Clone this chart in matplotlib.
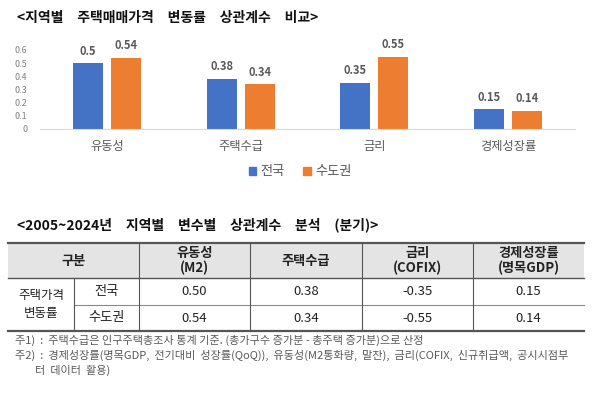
import matplotlib
matplotlib.use("Agg")
import matplotlib.pyplot as plt
from matplotlib.patches import Patch, Rectangle
import numpy as np

plt.rcParams['font.family'] = ['Noto Sans CJK KR', 'DejaVu Sans']

# --- data ---
categories = ['유동성', '주택수급', '금리', '경제성장률']
nationwide = [0.5, 0.38, 0.35, 0.15]
capital = [0.54, 0.34, 0.55, 0.14]
series_names = ['전국', '수도권']
yticks = [0, 0.1, 0.2, 0.3, 0.4, 0.5, 0.6]

table_cols = ['유동성\n(M2)', '주택수급', '금리\n(COFIX)', '경제성장률\n(명목GDP)']
table_rows = ['전국', '수도권']
table_group = '주택가격\n변동률'
table_vals = [['0.50', '0.38', '-0.35', '0.15'],
              ['0.54', '0.34', '-0.55', '0.14']]

# wide (ideographic) spaces between words, as in the source document
chart_title = '\u3000'.join(['<지역별', '주택매매가격', '변동률', '상관계수', '비교>'])
table_title = '\u3000'.join(['<2005~2024년', '지역별', '변수별', '상관계수', '분석', '(분기)>'])
notes = ['주1)  :  주택수급은 인구주택총조사 통계 기준. (총가구수 증가분 - 총주택 증가분)으로 산정',
         '주2)  :  경제성장률(명목GDP,  전기대비  성장률(QoQ)),  유동성(M2통화량,  말잔),  금리(COFIX,  신규취급액,  공시시점부',
         '        터  데이터  활용)']

BLUE = '#4472C4'
ORANGE = '#ED7D31'
GREY = '#595959'

W, H = 600, 396
fig = plt.figure(figsize=(W / 100, H / 100), dpi=100)

# page-level axes in pixel coordinates for titles, table and notes
pg = fig.add_axes([0, 0, 1, 1])
pg.set_xlim(0, W)
pg.set_ylim(H, 0)
pg.axis('off')

# --- bar chart ---
ax = fig.add_axes([40 / W, 1 - 129 / H, 535 / W, 79 / H])
ax.set_zorder(2)
ax.patch.set_alpha(0)
x = np.arange(len(categories))
bw = 0.225
off = 0.142
b1 = ax.bar(x - off, nationwide, bw, color=BLUE)
b2 = ax.bar(x + off, capital, bw, color=ORANGE)
for bars, vals in ((b1, nationwide), (b2, capital)):
    for rect, v in zip(bars, vals):
        ax.annotate(f'{v:g}', (rect.get_x() + rect.get_width() / 2, v),
                    xytext=(0, 4), textcoords='offset points',
                    ha='center', va='bottom', fontsize=8, fontweight='bold', color=GREY)
ax.set_xlim(-0.5, len(categories) - 0.5)
ax.set_ylim(0, 0.6)
ax.set_yticks(yticks)
ax.set_yticklabels([f'{t:g}' for t in yticks], fontsize=6.5, color='#808080')
ax.set_xticks(x)
ax.set_xticklabels(categories, fontsize=8.8, color=GREY)
ax.tick_params(length=0)
ax.tick_params(axis='y', pad=9)
ax.tick_params(axis='x', pad=8)
for s in ('top', 'right', 'left'):
    ax.spines[s].set_visible(False)
ax.spines['bottom'].set_color('#d9d9d9')

handles = [Patch(color=BLUE), Patch(color=ORANGE)]
fig.legend(handles, series_names, loc='center', bbox_to_anchor=(0.5, 1 - 172 / H),
           ncol=2, frameon=False, fontsize=9.5, handlelength=0.6, handleheight=0.6,
           handletextpad=0.3, columnspacing=1.4, labelcolor=GREY)

# --- titles ---
pg.text(17, 18, chart_title, fontsize=10, fontweight='bold', va='center', ha='left', color='#111111')
pg.text(17, 225, table_title, fontsize=10, fontweight='bold', va='center', ha='left', color='#111111')

# --- table ---
edges = [8, 74, 139, 250, 362, 473, 584]
y_top, y_head, y_mid, y_bot = 243, 278, 305, 331
dark = '#555555'
light = '#8a8a8a'

pg.add_patch(Rectangle((edges[0], y_top), edges[-1] - edges[0], y_head - y_top,
                       facecolor='#e4e4e4', edgecolor='none'))
pg.plot([edges[0], edges[-1]], [y_top, y_top], color=dark, lw=1.6)
pg.plot([edges[0], edges[-1]], [y_head, y_head], color=dark, lw=1.0)
pg.plot([edges[1], edges[-1]], [y_mid, y_mid], color=light, lw=0.8)
pg.plot([edges[0], edges[-1]], [y_bot, y_bot], color=dark, lw=1.6)
for e in edges[2:-1]:
    pg.plot([e, e], [y_top, y_bot], color=dark, lw=0.8)
pg.plot([edges[1], edges[1]], [y_head, y_bot], color=dark, lw=0.8)

head_y = (y_top + y_head) / 2
pg.text((edges[0] + edges[2]) / 2, head_y, '구분', ha='center', va='center',
        fontsize=9.5, fontweight='bold', color='#222222')
for i, c in enumerate(table_cols):
    cx = (edges[i + 2] + edges[i + 3]) / 2
    pg.text(cx, head_y, c, ha='center', va='center', fontsize=9.5, fontweight='bold',
            color='#222222', linespacing=1.1)

pg.text((edges[0] + edges[1]) / 2, (y_head + y_bot) / 2, table_group, ha='center',
        va='center', fontsize=9, color='#222222', linespacing=1.4)
row_y = [(y_head + y_mid) / 2, (y_mid + y_bot) / 2]
for r, name in enumerate(table_rows):
    pg.text((edges[1] + edges[2]) / 2, row_y[r], name, ha='center', va='center',
            fontsize=9.5, color='#222222')
    for i, v in enumerate(table_vals[r]):
        cx = (edges[i + 2] + edges[i + 3]) / 2
        pg.text(cx, row_y[r], v, ha='center', va='center', fontsize=9.5, color='#222222')

# --- notes ---
for k, line in enumerate(notes):
    pg.text(15, 340 + 15 * k, line, ha='left', va='center', fontsize=8, color=GREY)

fig.savefig('out.png', dpi=100)
